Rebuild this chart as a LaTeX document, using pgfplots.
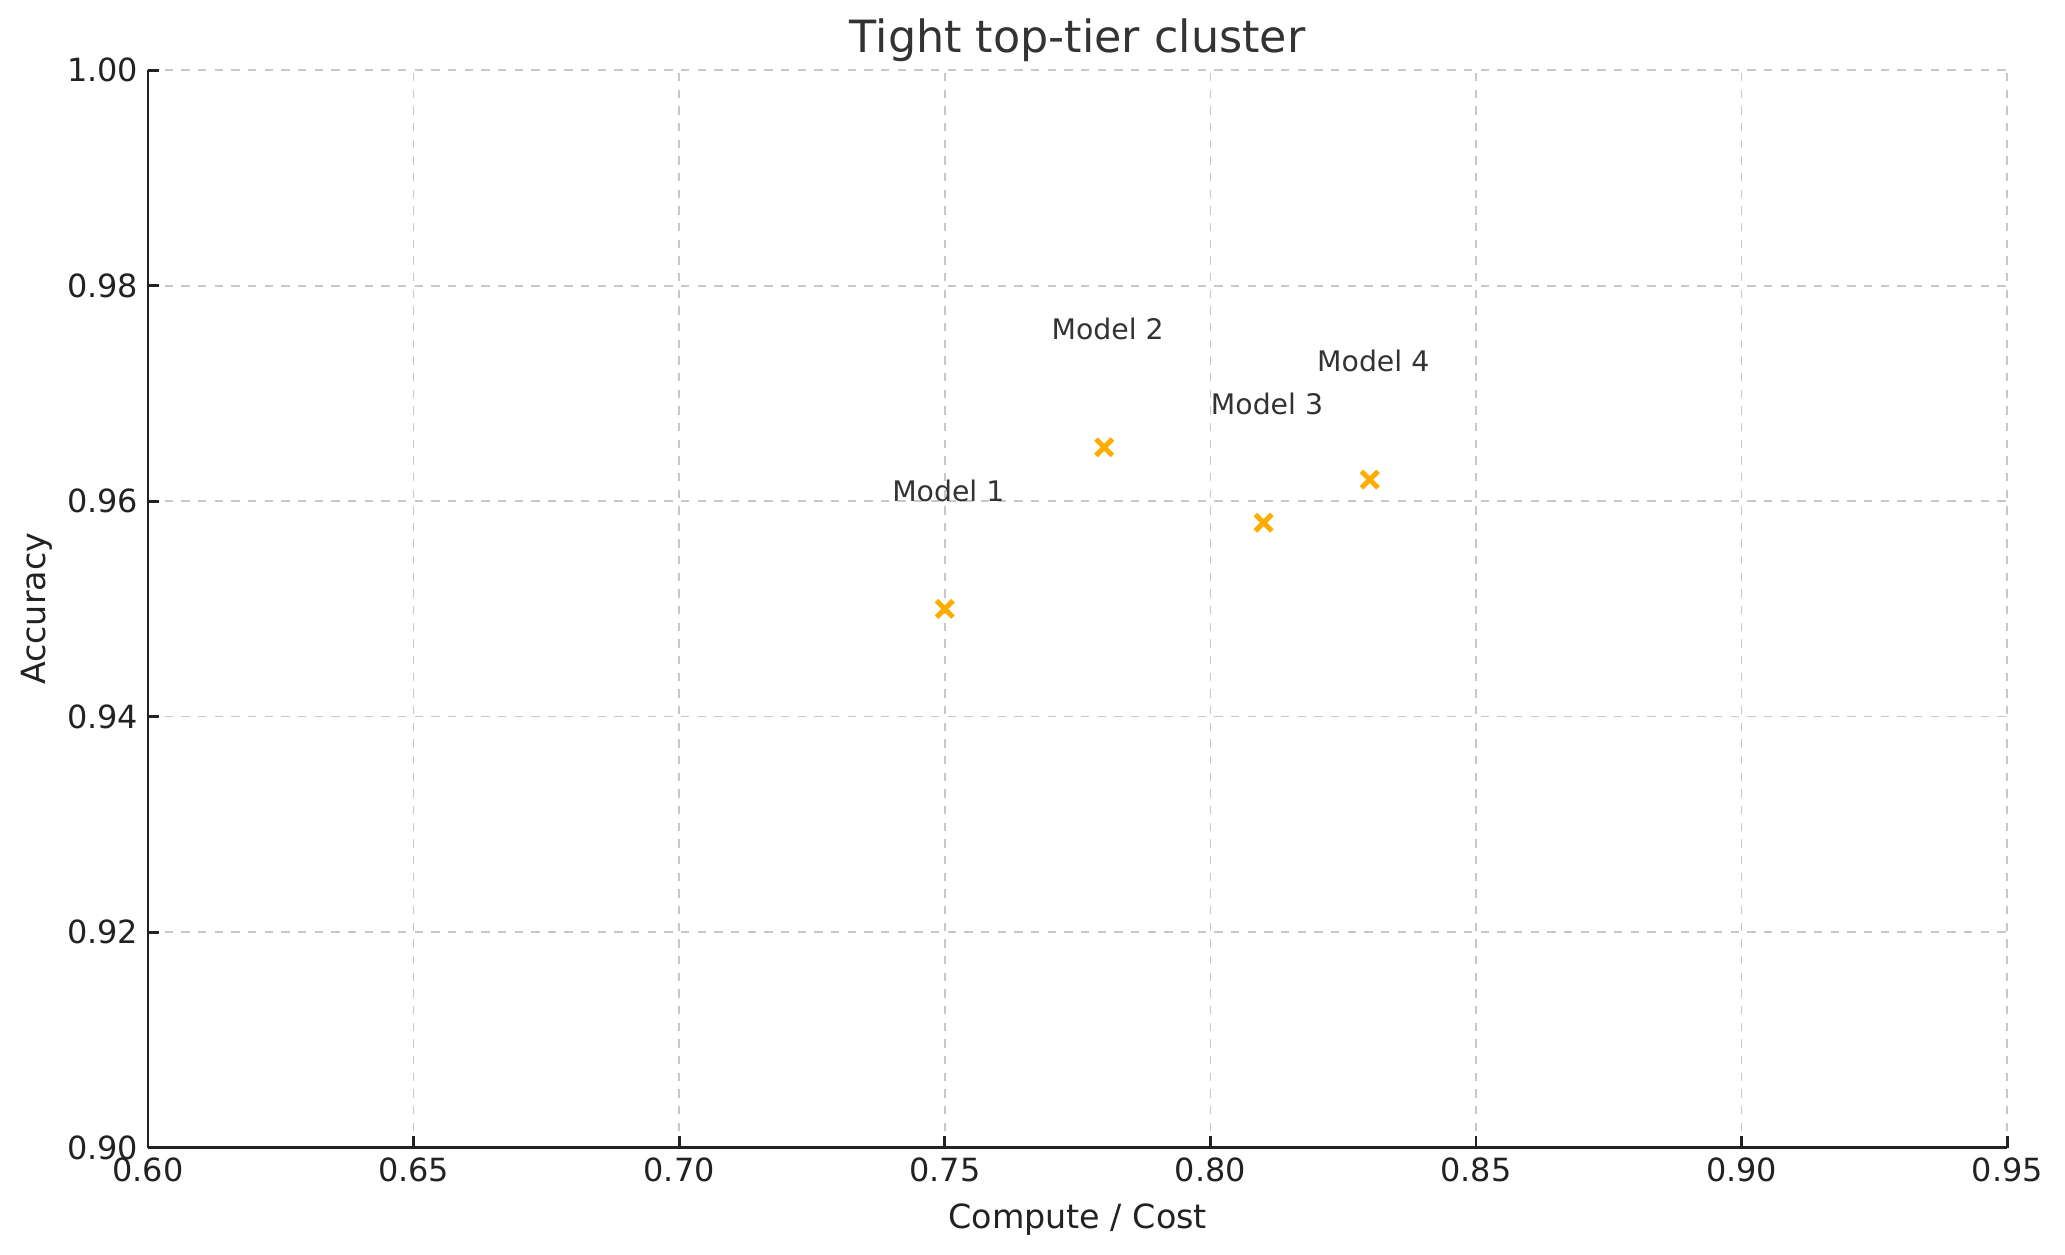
\documentclass[border=0pt]{standalone}
\usepackage{pgfplots}
\pgfplotsset{compat=1.18}
\usepackage{fontspec}
\setmainfont{DejaVu Sans}

\definecolor{ptcolor}{HTML}{FFAC00}
\definecolor{txt}{HTML}{333333}
\definecolor{spine}{HTML}{222222}

\begin{document}
\begin{tikzpicture}
  \begin{axis}[
      at={(0,0)}, anchor=south west,
      scale only axis,
      width=669.6pt, height=388pt,
      xmin=0.60, xmax=0.95,
      ymin=0.90, ymax=1.00,
      xtick={0.60,0.65,...,0.951},
      ytick={0.90,0.92,...,1.001},
      axis x line*=bottom,
      axis y line*=left,
      axis line style={spine, line width=1pt, -},
      tick align=inside,
      major tick length=4pt,
      tick style={spine, line width=1pt},
      grid=major,
      major grid style={dashed, color=black!22, line width=0.6pt},
      tick label style={font=\fontsize{11.5}{13}\selectfont, color=spine},
      /pgf/number format/assume math mode=true,
      /pgf/number format/.cd, fixed, fixed zerofill, precision=2, /pgfplots/.cd,
      clip=false,
    ]
    \addplot [only marks, mark=x, mark size=4.2pt, color=ptcolor, line width=1.8pt]
      coordinates {(0.75,0.950)(0.78,0.965)(0.81,0.958)(0.83,0.962)};
    \begin{scope}[every node/.style={anchor=base west, color=txt, font=\fontsize{10.2}{12}\selectfont, inner sep=0pt}]
      \node at (axis cs:0.74,0.960) {Model 1};
      \node at (axis cs:0.77,0.975) {Model 2};
      \node at (axis cs:0.80,0.968) {Model 3};
      \node at (axis cs:0.82,0.972) {Model 4};
    \end{scope}
  \end{axis}
  % title and axis labels
  \node[anchor=base, inner sep=0pt, color=txt, font=\fontsize{16}{18}\selectfont] at (334.8pt,394.4pt) {Tight top-tier cluster};
  \node[anchor=base, inner sep=0pt, color=spine, font=\fontsize{12}{14}\selectfont] at (334.8pt,-29.2pt) {Compute / Cost};
  \node[anchor=base, inner sep=0pt, rotate=90, color=spine, font=\fontsize{12}{14}\selectfont] at (-37pt,194pt) {Accuracy};
  \useasboundingbox (-53.3pt,-38.5pt) rectangle (690.4pt,413.3pt);
\end{tikzpicture}
\end{document}
